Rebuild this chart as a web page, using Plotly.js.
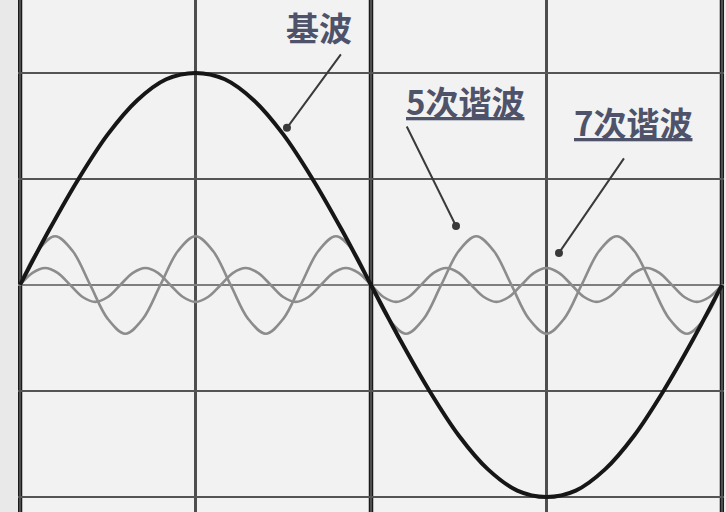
<!DOCTYPE html>
<html>
<head>
<meta charset="utf-8">
<script src="https://cdn.plot.ly/plotly-3.0.1.min.js"></script>
<style>
  html, body { margin: 0; padding: 0; background: #e9e9e9; }
  #chart { width: 726px; height: 512px; }
</style>
</head>
<body>
<div id="chart"></div>
<script>
// Phase angle (degrees) for the fundamental, sampled every 15°
const fundX = [0,15,30,45,60,75,90,105,120,135,150,165,180,195,210,225,240,255,270,285,300,315,330,345,360];
const fundY = [0,0.26,0.5,0.71,0.87,0.97,1,0.97,0.87,0.71,0.5,0.26,0,-0.26,-0.5,-0.71,-0.87,-0.97,-1,-0.97,-0.87,-0.71,-0.5,-0.26,0];

// 5th harmonic, sampled every 9°
const h5X = [0,9,18,27,36,45,54,63,72,81,90,99,108,117,126,135,144,153,162,171,180,189,198,207,216,225,234,243,252,261,270,279,288,297,306,315,324,333,342,351,360];
const h5Y = [0,0.16,0.23,0.16,0,-0.16,-0.23,-0.16,
             0,0.16,0.23,0.16,0,-0.16,-0.23,-0.16,
             0,0.16,0.23,0.16,0,-0.16,-0.23,-0.16,
             0,0.16,0.23,0.16,0,-0.16,-0.23,-0.16,
             0,0.16,0.23,0.16,0,-0.16,-0.23,-0.16,0];

// 7th harmonic, sampled every 1/8 of its period
const h7X = [0,6.4,12.9,19.3,25.7,32.1,38.6,45,51.4,57.9,64.3,70.7,77.1,83.6,90,96.4,102.9,109.3,115.7,122.1,128.6,135,141.4,147.9,154.3,160.7,167.1,173.6,180,186.4,192.9,199.3,205.7,212.1,218.6,225,231.4,237.9,244.3,250.7,257.1,263.6,270,276.4,282.9,289.3,295.7,302.1,308.6,315,321.4,327.9,334.3,340.7,347.1,353.6,360];
const h7Y = [0,0.057,0.08,0.057,0,-0.057,-0.08,-0.057,
             0,0.057,0.08,0.057,0,-0.057,-0.08,-0.057,
             0,0.057,0.08,0.057,0,-0.057,-0.08,-0.057,
             0,0.057,0.08,0.057,0,-0.057,-0.08,-0.057,
             0,0.057,0.08,0.057,0,-0.057,-0.08,-0.057,
             0,0.057,0.08,0.057,0,-0.057,-0.08,-0.057,
             0,0.057,0.08,0.057,0,-0.057,-0.08,-0.057,0];

// Labels and where their arrows point
const labelTexts = ['基波', '<u>5次谐波</u>', '<u>7次谐波</u>'];
const labelX = [153.3, 228.2, 314.4];
const labelY = [1.217, 0.868, 0.769];
const tipX = [136.9, 223.6, 276.4];
const tipY = [0.741, 0.278, 0.151];
const tailDX = [55, -50, 66];
const tailDY = [-75, -101, -96];

const majorLines = [0, 180, 360];

const traces = [
  { x: h7X, y: h7Y, mode: 'lines', line: { color: '#8c8c8c', width: 2.6, shape: 'spline' }, hoverinfo: 'skip' },
  { x: h5X, y: h5Y, mode: 'lines', line: { color: '#8c8c8c', width: 2.6, shape: 'spline' }, hoverinfo: 'skip' },
  { x: fundX, y: fundY, mode: 'lines', line: { color: '#161616', width: 4, shape: 'spline' }, hoverinfo: 'skip' }
];

const font = { family: 'Noto Sans CJK SC, sans-serif', size: 33, color: '#4e536a' };
const annotations = [];
labelTexts.forEach((t, i) => {
  annotations.push({ x: labelX[i], y: labelY[i], xref: 'x', yref: 'y', text: '<b>' + t + '</b>', showarrow: false, font: font });
  annotations.push({ x: tipX[i], y: tipY[i], xref: 'x', yref: 'y', text: '', showarrow: true,
    ax: tailDX[i], ay: tailDY[i], arrowhead: 6, arrowsize: 1, arrowwidth: 2, arrowcolor: '#3a3a3a' });
});

const shapes = majorLines.map(v => ({
  type: 'line', xref: 'x', yref: 'paper', x0: v, x1: v, y0: 0, y1: 1,
  line: { color: '#1a1a1a', width: 4.5 }, layer: 'between'
}));

const layout = {
  width: 726, height: 512,
  margin: { l: 18, r: 2, t: 0, b: 0, pad: 0 },
  paper_bgcolor: '#e9e9e9',
  plot_bgcolor: '#f2f2f2',
  showlegend: false,
  xaxis: { range: [-1.03, 361.03], tick0: 0, dtick: 90, showgrid: true, gridcolor: '#4e4e4e', gridwidth: 2.5,
           zeroline: false, showticklabels: false, ticks: '', showline: false, fixedrange: true },
  yaxis: { range: [-1.071, 1.344], tick0: 0, dtick: 0.5, showgrid: true, gridcolor: '#555555', gridwidth: 2.5,
           zeroline: true, zerolinecolor: '#7e7e7e', zerolinewidth: 2.5,
           showticklabels: false, ticks: '', showline: false, fixedrange: true },
  shapes: shapes,
  annotations: annotations
};

Plotly.newPlot('chart', traces, layout, { displayModeBar: false, staticPlot: true });
</script>
</body>
</html>
